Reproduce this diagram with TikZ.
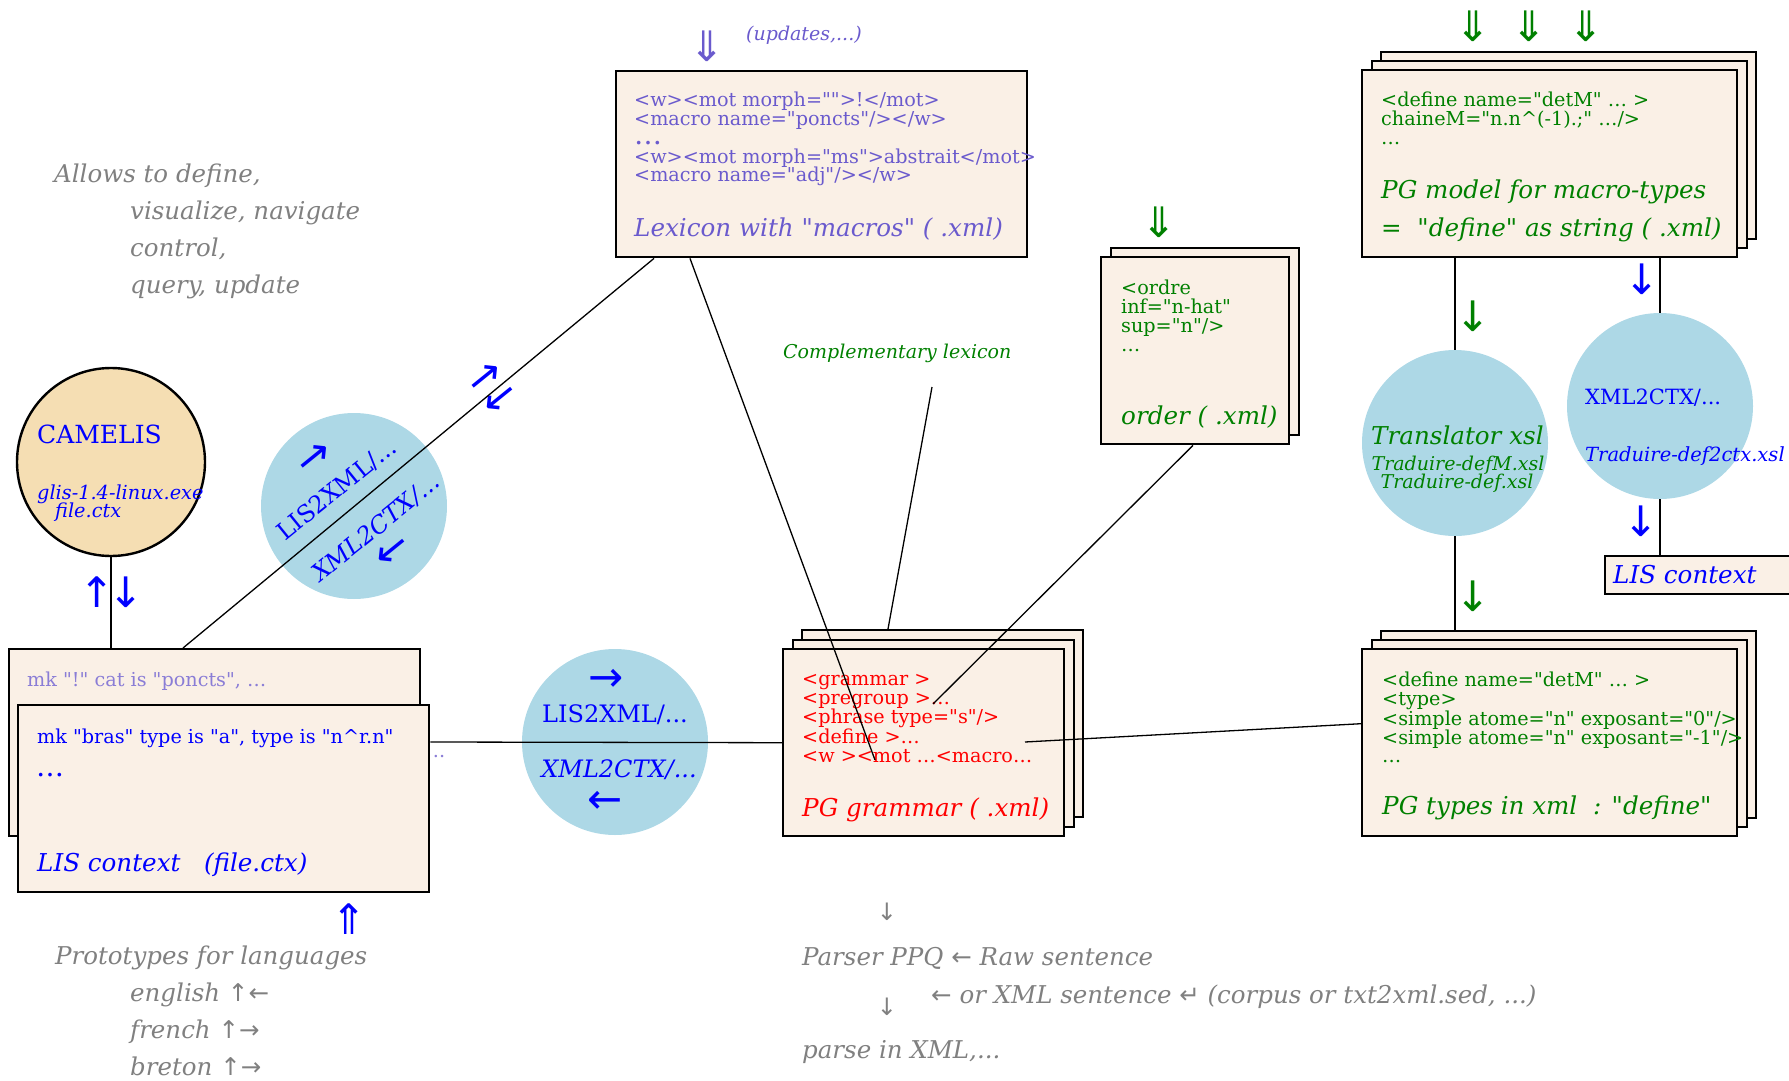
\documentclass[tikz,border=0pt]{standalone}
\usepackage{fontspec}
\setmainfont{DejaVu Serif}[Ligatures=TeXOff]
\newfontfamily\arrowfont{DejaVu Sans}
\usetikzlibrary{shapes}

\definecolor{linen}{HTML}{FAF0E6}
\definecolor{wheat}{HTML}{F5DEB3}
\definecolor{lightblue}{HTML}{ADD8E6}
\definecolor{slateblue}{HTML}{6A5ACD}
\definecolor{lispurple}{HTML}{8A7DD6}
\definecolor{gvgreen}{HTML}{008000}
\definecolor{gvgray}{HTML}{808080}

\newcommand\codesz{\fontsize{19.2}{18.75}\selectfont}
\newcommand\labsz{\fontsize{24.6}{28}\selectfont\itshape}
\newcommand\bigarrsz{\arrowfont\fontsize{42}{42}\selectfont}
\newcommand\bigdots{{\fontsize{28}{18.75}\selectfont …}}

\tikzset{
  doc/.style={draw, line width=2.4pt, fill=linen, anchor=north west, inner sep=0pt,
    minimum width=375pt, minimum height=187pt},
  proc/.style={circle, fill=lightblue, minimum size=186pt, inner sep=0pt},
  txt/.style={anchor=west, inner sep=0pt},
  code/.style={anchor=north west, inner sep=0pt, align=left, font=\codesz,
    execute at begin node=\strut},
  lab/.style={txt, font=\labsz},
  note/.style={anchor=north west, inner sep=0pt, align=left, text=gvgray,
    font=\fontsize{24.5}{37}\selectfont\itshape, execute at begin node=\strut},
  gray/.style={txt, text=gvgray, font=\fontsize{24.5}{24}\selectfont\itshape},
  arr/.style={inner sep=0pt, font=\bigarrsz},
  link/.style={line width=1.3pt},
}

\begin{document}
\begin{tikzpicture}[x=1pt,y=-1pt]
\useasboundingbox (0,0) rectangle (1789,1081);

% documents
\node[doc, minimum width=411pt, minimum height=186pt] (lex) at (615,70) {};
\node[doc, minimum width=281pt] (gram3) at (801,629) {};
\node[doc, minimum width=281pt] (gram2) at (792,639) {};
\node[doc, minimum width=281pt] (gram) at (782,648) {};
\node[doc, minimum width=188pt] (ord2) at (1110,247) {};
\node[doc, minimum width=188pt] (ord) at (1100,256) {};
\node[doc] (model3) at (1380,51) {};
\node[doc] (model2) at (1371,60) {};
\node[doc] (model) at (1361,69) {};
\node[doc] (types3) at (1380,630) {};
\node[doc] (types2) at (1371,639) {};
\node[doc] (types) at (1361,648) {};
\node[doc, minimum width=411pt] (lis2) at (8,648) {};
\node[doc, minimum width=411pt] (lis) at (17,704) {};
\node[doc, minimum width=200pt, minimum height=38pt] (lisr) at (1604,555) {};

% tools
\node[draw, line width=2.4pt, circle, fill=wheat, minimum size=188pt] (cam) at (111,462) {};
\node[proc] (rot) at (354,506) {};
\node[proc] (mid) at (615,742) {};
\node[proc] (trans) at (1455,443) {};
\node[proc] (x2c) at (1660,406) {};

% lexicon
\node[arr, text=slateblue] (lexupd) at (707,46) {⇓};
\node[txt, text=slateblue, font=\fontsize{19}{19}\selectfont\itshape] (updates) at (746,35) {(updates,...)};
\node[code, text=slateblue] (lexcode) at (634,92) {<w><mot morph="">!</mot>\\<macro name="poncts"/></w>\\\bigdots\\<w><mot morph="ms">abstrait</mot>\\<macro name="adj"/></w>};
\node[lab, text=slateblue] (lexlab) at (634,229) {Lexicon with "macros" ( .xml)};

% grammar
\node[code, text=red] (gramcode) at (802,674) {<grammar >\\<pregroup >…\\<phrase type="s"/>\\<define >…\\<w ><mot …<macro…};
\node[lab, text=red] (gramlab) at (802,810) {PG grammar ( .xml)};
\node[txt, text=gvgreen, font=\fontsize{19}{19}\selectfont\itshape] (comp) at (783,353) {Complementary lexicon};

% order
\node[arr, text=gvgreen] (ordupd) at (1159,222) {⇓};
\node[code, text=gvgreen] (ordcode) at (1121,280) {<ordre\\inf="n-hat"\\sup="n"/>\\…};
\node[lab, text=gvgreen] (ordlab) at (1121,417) {order ( .xml)};

% macro-types
\node[arr, text=gvgreen] (modupd1) at (1473,26) {⇓};
\node[arr, text=gvgreen] (modupd2) at (1529,26) {⇓};
\node[arr, text=gvgreen] (modupd3) at (1586,26) {⇓};
\node[code, text=gvgreen] (modcode) at (1381,92) {<define name="detM" … >\\chaineM="n.n\textasciicircum(-1).;" …/>\\…};
\node[lab, text=gvgreen] (modlab1) at (1381,192) {PG model for macro-types};
\node[lab, text=gvgreen] (modlab2) at (1381,230) {\upshape=\ \ \itshape "define" as string ( .xml)};

\node[arr, text=gvgreen] (transin) at (1473,316) {↓};
\node[lab, text=gvgreen] (transname) at (1371,435) {Translator xsl};
\node[txt, text=gvgreen, font=\fontsize{19}{19}\selectfont\itshape, anchor=center] (transf1) at (1458,465) {Traduire-defM.xsl};
\node[txt, text=gvgreen, font=\fontsize{19}{19}\selectfont\itshape, anchor=center] (transf2) at (1457,483) {Traduire-def.xsl};
\node[arr, text=gvgreen] (transout) at (1473,596) {↓};

\node[arr, text=blue] (x2cin) at (1642,279) {↓};
\node[txt, text=blue, font=\fontsize{21}{21}\selectfont] (x2cname) at (1585,398) {XML2CTX/...};
\node[txt, text=blue, font=\fontsize{19.5}{19}\selectfont\itshape] (x2cfile) at (1585,456) {Traduire-def2ctx.xsl};
\node[arr, text=blue] (x2cout) at (1641,521) {↓};
\node[lab, text=blue] (lisrlab) at (1613,575) {LIS context};

% types
\node[code, text=gvgreen] (typescode) at (1382,672) {<define name="detM" … >\\<type>\\<simple atome="n" exposant="0"/>\\<simple atome="n" exposant="-1"/>\\…};
\node[lab, text=gvgreen] (typeslab) at (1382,808) {PG types in xml\ \ : \upshape"\itshape define\upshape"};

% camelis
\node[txt, text=blue, font=\fontsize{25}{25}\selectfont] (camname) at (37,434) {CAMELIS};
\node[txt, text=blue, font=\fontsize{19.3}{19}\selectfont\itshape] (camexe) at (37,494) {glis-1.4-linux.exe};
\node[txt, text=blue, font=\fontsize{19.3}{19}\selectfont\itshape] (camfile) at (55,512) {file.ctx};
\node[arr, text=blue] (camup) at (97,592) {↑};
\node[arr, text=blue] (camdown) at (126,592) {↓};
\node[note] (allows) at (54,164) {Allows to define,\\\hspace*{76pt}visualize, navigate\\\hspace*{76pt}control,\\\hspace*{76pt}query, update};

% LIS context
\node[code, text=lispurple] (lis2code) at (27,672) {mk "!" cat is "poncts", …};
\node[txt, text=lispurple, font=\codesz, anchor=center] (lis2more) at (439,757) {..};
\node[code, text=blue] (liscode) at (37,729) {mk "bras" type is "a", type is "n\textasciicircum r.n"};
\node[txt, text=blue] (lisdots) at (36,775) {\bigdots};
\node[lab, text=blue] (lislab) at (37,865) {LIS context\ \ \ (file.ctx)};
\node[arr, text=blue] (lisin) at (349,919) {⇑};
\node[note] (proto) at (55,946) {Prototypes for languages\\\hspace*{75pt}english {\arrowfont ↑←}\\\hspace*{75pt}french {\arrowfont ↑→}\\\hspace*{75pt}breton {\arrowfont ↑→}};

% translators
\node[arr, text=blue, rotate=39] (rotin) at (315,459) {→};
\node[text=blue, font=\fontsize{24}{24}\selectfont, rotate=39, inner sep=0pt] (rotl2x) at (337,490) {LIS2XML/...};
\node[text=blue, font=\fontsize{24}{24}\selectfont\itshape, rotate=39, inner sep=0pt] (rotx2c) at (376,528) {XML2CTX/...};
\node[arr, text=blue, rotate=39] (rotout) at (393,552) {←};
\node[arr, text=blue, rotate=39] (lexin) at (486,379) {→};
\node[arr, text=blue, rotate=39] (lexout) at (501,400) {←};

\node[arr, text=blue] (midin) at (606,680) {→};
\node[text=blue, font=\fontsize{24}{24}\selectfont, inner sep=0pt] (midl2x) at (615,715) {LIS2XML/...};
\node[text=blue, font=\fontsize{24}{24}\selectfont\itshape, inner sep=0pt] (midx2c) at (619,770) {XML2CTX/...};
\node[arr, text=blue] (midout) at (605,802) {←};

% parser
\node[text=gvgray, font=\arrowfont\fontsize{24}{24}\selectfont, inner sep=0pt] (pdown1) at (887,912) {↓};
\node[gray] (parser) at (802,958) {Parser PPQ {\arrowfont ←} Raw sentence};
\node[gray] (xmlsent) at (931,997) {{\arrowfont ←} or XML sentence {\arrowfont ↵} (corpus or txt2xml.sed, ...)};
\node[text=gvgray, font=\arrowfont\fontsize{24}{24}\selectfont, inner sep=0pt] (pdown2) at (887,1007) {↓};
\node[gray] (parsexml) at (802,1052) {parse in XML,...};

% links
\coordinate (gramlex) at (875,760);
\coordinate (gramord) at (933,704);
\coordinate (gramtypes) at (1025,742);
\coordinate (compend) at (932,387);
\draw[link] (cam.south) -- (cam.south |- lis2.north);
\draw[link] ([xshift=39pt]lex.south west) -- ([xshift=175pt]lis2.north west);
\draw[link] ([xshift=75pt]lex.south west) -- (gramlex);
\draw[link] ([yshift=-38pt]lis.north east) -- (gram.west);
\draw[link] (compend) -- ([xshift=87pt]gram3.north west);
\draw[link] ([xshift=93pt]ord.south west) -- (gramord);
\draw[link] (gramtypes) -- ([yshift=19pt]types.west);
\draw[link] (trans.north |- model.south) -- (trans.north);
\draw[link] (trans.south) -- (trans.south |- types3.north);
\draw[link] (x2c.north |- model.south) -- (x2c.north);
\draw[link] (x2c.south) -- (x2c.south |- lisr.north);
\end{tikzpicture}
\end{document}
